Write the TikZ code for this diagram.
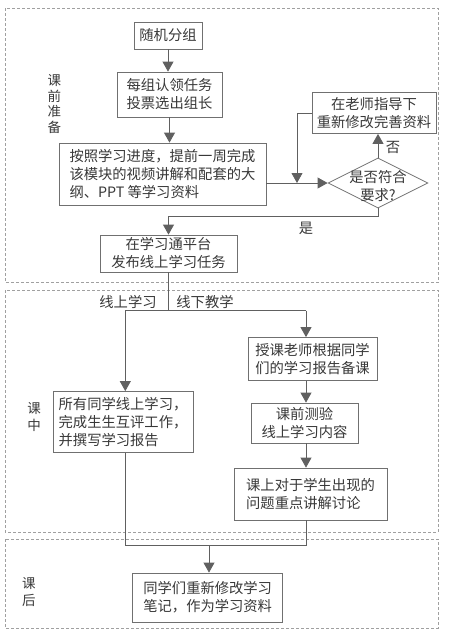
\documentclass[tikz,border=0pt]{standalone}
\usepackage{fontspec}
\setmainfont{Liberation Serif}
\newfontfamily\cjk{Noto Sans CJK SC}
\usetikzlibrary{arrows.meta,shapes.geometric,calc}
\definecolor{boxc}{HTML}{707070}
\definecolor{linec}{HTML}{606060}
\definecolor{txtc}{HTML}{383838}
\definecolor{dashc}{HTML}{A0A0A0}
\begin{document}
\begin{tikzpicture}[x=1pt,y=-1pt,
  every node/.style={font=\cjk\fontsize{14.3}{18}\selectfont, text=txtc},
  box/.style={draw=boxc, line width=0.8pt, inner sep=2pt, align=center, fill=white},
  conn/.style={draw=linec, line width=0.8pt},
  arr/.style={conn, -{Triangle[length=10pt,width=11pt]}},
  region/.style={draw=dashc, line width=0.7pt, dash pattern=on 3pt off 2pt},
  side/.style={font=\cjk\fontsize{13.5}{15.5}\selectfont, align=center, inner sep=0pt}]
\useasboundingbox (0,0) rectangle (450,641);
% regions
\draw[region] (5.3,8.3) rectangle (438,282.7);
\draw[region] (5.3,290) rectangle (438,532);
\draw[region] (5.3,539) rectangle (438,628);
% side labels
\node[side] (s1) at (54.3,104) {课\\前\\准\\备};
\node[side, font=\cjk\fontsize{13.5}{17}\selectfont] (s2) at (34,416.5) {课\\中};
\node[side, font=\cjk\fontsize{13.5}{17}\selectfont] (s3) at (29,592) {课\\后};
% nodes
\node[box, minimum width=68, minimum height=27] (n1) at (168,35.5) {随机分组};
\node[box, minimum width=105, minimum height=45] (n2) at (169.5,94.5) {每组认领任务\\投票选出组长};
\node[box, minimum width=207, minimum height=62, align=left] (n3) at (162.5,174) {按照学习进度，提前一周完成\\该模块的视频讲解和配套的大\\纲、PPT 等学习资料};
\node[box, minimum width=124, minimum height=41] (n4) at (374,113) {在老师指导下\\重新修改完善资料};
\node[diamond, draw=boxc, line width=0.8pt, minimum width=100, minimum height=50, inner sep=0pt] (d) at (378,183) {};
\node[align=center, inner sep=0pt] (dt) at (378,186) {是否符合\\要求?};
\node[box, minimum width=137, minimum height=37] (n5) at (168.5,253.5) {在学习通平台\\发布线上学习任务};
\node[box, minimum width=129, minimum height=43] (n6) at (312.5,359) {授课老师根据同学\\们的学习报告备课};
\node[box, minimum width=107, minimum height=40] (n7) at (304.5,423) {课前测验\\线上学习内容};
\node[box, minimum width=140, minimum height=61, align=left] (n8) at (123,422) {所有同学线上学习，\\完成生生互评工作，\\并撰写学习报告};
\node[box, minimum width=153, minimum height=52, align=left] (n9) at (310.5,494) {课上对于学生出现的\\问题重点讲解讨论};
\node[box, minimum width=150, minimum height=49, align=left] (n10) at (207.7,597.5) {同学们重新修改学习\\笔记，作为学习资料};
% connectors
\draw[arr] (n1.south) -- (n1.south |- n2.north);
\draw[arr] (n2.south) -- (n2.south |- n3.north);
\draw[arr] (d.west -| n3.east) -- (d.west);
\coordinate (m) at ($(d.west -| n3.east)!0.5!(d.west)$);
\draw[arr] (n4.west) -| (m);
\draw[arr] (d.north) -- (d.north |- n4.south);
\node (no) at (393,147) {否};
\coordinate (yb) at ($(d.south)+(0,8)$);
\draw[arr] (d.south) -- (yb) -| (n5.north);
\node (yes) at (306,228) {是};
\coordinate (sp) at (168.5,310.7);
\coordinate (L) at (125.3,310.7);
\coordinate (R) at (306,310.7);
\draw[conn] (n5.south) -- (sp);
\draw[conn] (L) -- (R);
\draw[arr] (L) -- (L |- n8.north);
\draw[arr] (R) -- (R |- n6.north);
\draw[arr] (R |- n6.south) -- (R |- n7.north);
\draw[arr] (R |- n7.south) -- (R |- n9.north);
\node (on) at (128,301.7) {线上学习};
\node (off) at (205,301.7) {线下教学};
\coordinate (M) at (209,545.7);
\draw[conn] (L |- n8.south) -- (L |- M) -- (R |- M) -- (R |- n9.south);
\draw[arr] (M) -- (M |- n10.north);
\end{tikzpicture}
\end{document}
